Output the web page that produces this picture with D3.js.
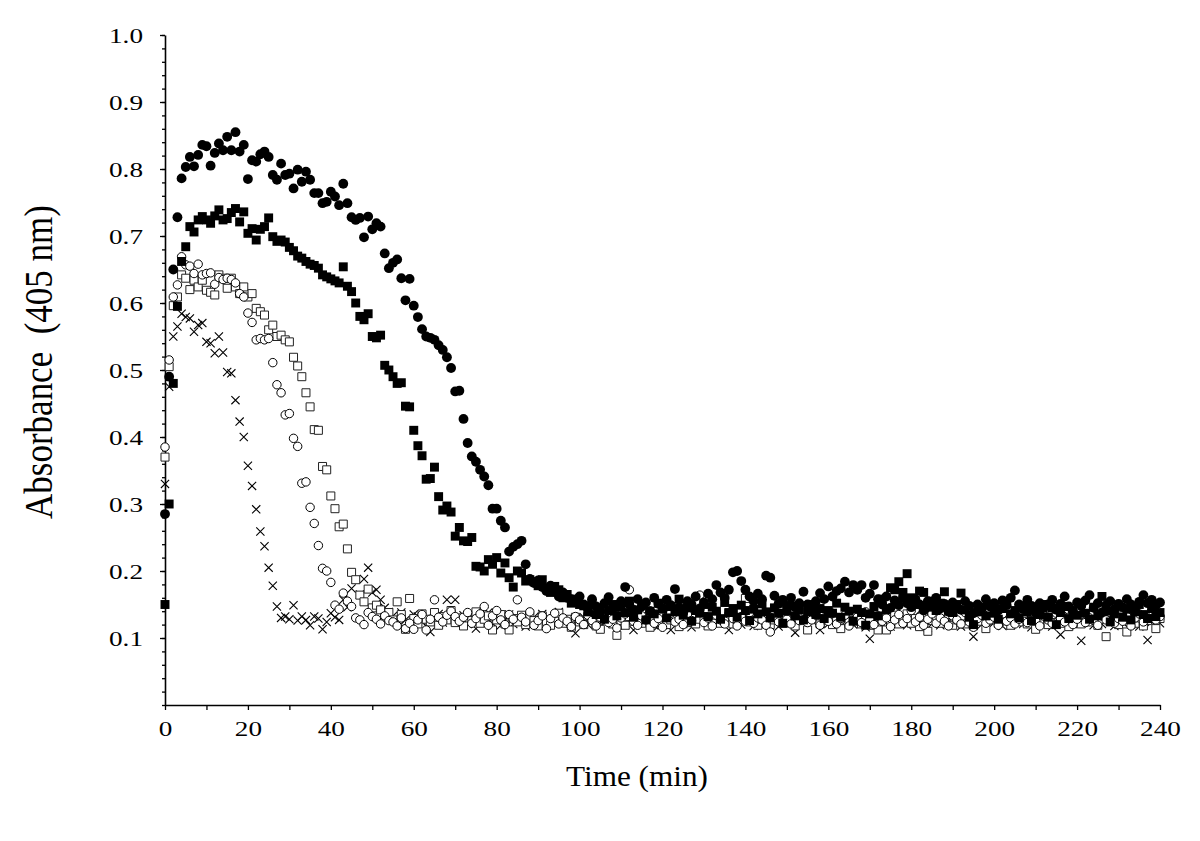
<!DOCTYPE html>
<html>
<head>
<meta charset="utf-8">
<script src="https://cdn.jsdelivr.net/npm/d3@7"></script>
<style>
  html, body { margin: 0; padding: 0; background: #fff; }
  svg { display: block; }
  text { font-family: "Liberation Serif", "Times New Roman", serif; fill: #000; }
</style>
</head>
<body>
<svg id="chart" width="1200" height="841"></svg>
<script>
// ---- Data (absorbance at 405 nm, one reading per minute, t = 0 .. 240 min) ----
const sampleMinutes = 1;
const xTickValues = [0, 20, 40, 60, 80, 100, 120, 140, 160, 180, 200, 220, 240];
const yTickValues = [0.1, 0.2, 0.3, 0.4, 0.5, 0.6, 0.7, 0.8, 0.9, 1.0];
const xLabel = "Time (min)";
const yLabel = "Absorbance  (405 nm)";

const filledCircle = [
0.285,0.490,0.650,0.728,0.786,0.803,0.818,0.804,0.821,0.836,
0.834,0.805,0.824,0.838,0.828,0.848,0.828,0.855,0.826,0.836,
0.785,0.813,0.811,0.822,0.826,0.818,0.791,0.784,0.808,0.791,
0.793,0.771,0.799,0.781,0.796,0.784,0.764,0.764,0.749,0.751,
0.766,0.759,0.746,0.778,0.749,0.728,0.724,0.727,0.698,0.729,
0.710,0.719,0.714,0.674,0.652,0.660,0.665,0.637,0.604,0.636,
0.596,0.579,0.561,0.550,0.548,0.545,0.537,0.530,0.519,0.503,
0.468,0.469,0.427,0.391,0.371,0.363,0.351,0.341,0.328,0.293,
0.293,0.275,0.265,0.229,0.236,0.240,0.245,0.210,0.188,0.182,
0.186,0.176,0.170,0.178,0.172,0.162,0.168,0.160,0.158,0.154,
0.162,
0.150,0.144,0.158,0.147,0.139,0.152,0.161,0.143,0.149,0.155,
0.176,0.150,0.142,0.158,0.147,0.153,0.140,0.160,0.151,0.145,
0.157,0.149,0.173,0.146,0.138,0.155,0.150,0.162,0.144,0.153,
0.166,0.158,0.179,0.168,0.160,0.172,0.198,0.200,0.185,0.172,
0.162,0.155,0.166,0.158,0.193,0.190,0.163,0.151,0.157,0.148,
0.160,0.146,0.152,0.169,0.150,0.143,0.155,0.167,0.158,0.177,
0.162,0.170,0.174,0.184,0.168,0.179,0.172,0.179,0.160,0.166,
0.179,0.158,0.150,0.162,0.145,0.156,0.149,0.160,0.152,0.146,
0.158,0.150,0.141,0.155,0.148,0.160,0.144,0.151,0.139,0.153,
0.146,0.142,0.155,0.148,0.137,0.150,0.144,0.158,0.147,0.152,
0.141,0.156,0.149,0.160,0.171,0.150,0.143,0.157,0.148,0.138,
0.152,0.145,0.150,0.157,0.142,0.151,0.162,0.147,0.140,0.153,
0.148,0.156,0.164,0.145,0.152,0.138,0.149,0.155,0.143,0.151,
0.146,0.158,0.150,0.141,0.154,0.164,0.152,0.157,0.149,0.153
];

const filledSquare = [
0.150,0.300,0.480,0.595,0.662,0.684,0.714,0.706,0.724,0.729,
0.724,0.719,0.730,0.739,0.724,0.726,0.735,0.741,0.721,0.736,
0.704,0.711,0.694,0.710,0.714,0.727,0.699,0.692,0.694,0.691,
0.683,0.678,0.670,0.667,0.662,0.658,0.656,0.652,0.642,0.639,
0.636,0.633,0.630,0.654,0.625,0.617,0.600,0.580,0.575,0.584,
0.550,0.548,0.552,0.507,0.500,0.490,0.480,0.481,0.446,0.445,
0.410,0.387,0.372,0.337,0.338,0.355,0.311,0.291,0.297,0.288,
0.252,0.265,0.245,0.244,0.250,0.207,0.206,0.200,0.217,0.210,
0.220,0.197,0.212,0.190,0.176,0.200,0.197,0.185,0.187,0.184,
0.178,0.187,0.174,0.168,0.177,0.172,0.160,0.165,0.152,0.158,
0.150,
0.148,0.139,0.152,0.135,0.144,0.128,0.141,0.150,0.133,0.146,
0.138,0.155,0.131,0.142,0.149,0.127,0.140,0.136,0.152,0.143,
0.130,0.147,0.139,0.158,0.134,0.145,0.125,0.141,0.137,0.150,
0.132,0.146,0.140,0.128,0.153,0.138,0.144,0.131,0.149,0.141,
0.126,0.143,0.136,0.151,0.139,0.130,0.145,0.137,0.122,0.140,
0.148,0.133,0.142,0.127,0.139,0.150,0.135,0.144,0.129,0.141,
0.137,0.152,0.131,0.146,0.140,0.125,0.143,0.138,0.119,0.136,
0.147,0.133,0.158,0.142,0.175,0.172,0.184,0.168,0.196,0.160,
0.150,0.170,0.168,0.146,0.155,0.141,0.152,0.169,0.145,0.138,
0.150,0.167,0.142,0.131,0.120,0.139,0.146,0.133,0.150,0.137,
0.128,0.144,0.155,0.136,0.141,0.130,0.148,0.139,0.126,0.143,
0.135,0.150,0.131,0.145,0.120,0.138,0.147,0.129,0.141,0.134,
0.152,0.137,0.128,0.146,0.133,0.162,0.140,0.124,0.136,0.148,
0.131,0.143,0.127,0.139,0.150,0.135,0.129,0.144,0.132,0.138
];

const openCircle = [
0.385,0.515,0.609,0.627,0.669,0.657,0.655,0.644,0.658,0.642,
0.644,0.645,0.628,0.638,0.635,0.637,0.635,0.630,0.614,0.609,
0.585,0.571,0.545,0.547,0.545,0.547,0.511,0.478,0.466,0.433,
0.435,0.398,0.386,0.331,0.333,0.295,0.271,0.238,0.204,0.200,
0.183,0.149,0.143,0.167,0.155,0.147,0.130,0.127,0.120,0.138,
0.132,
0.128,0.121,0.133,0.126,0.124,0.118,0.130,0.114,0.122,0.113,
0.127,0.135,0.112,0.128,0.157,0.131,0.124,0.134,0.140,0.132,
0.125,0.131,0.138,0.122,0.129,0.136,0.147,0.119,0.133,0.141,
0.127,0.120,0.135,0.128,0.157,0.131,0.124,0.139,0.119,0.126,
0.133,0.114,0.129,0.137,0.121,0.130,0.125,0.117,0.132,0.127,
0.120,0.134,0.126,0.118,0.131,0.139,0.123,0.128,0.115,0.130,
0.136,0.172,0.125,0.119,0.133,0.127,0.140,0.122,0.129,0.116,
0.131,0.137,0.124,0.128,0.120,0.135,0.126,0.141,0.164,0.123,
0.130,0.118,0.134,0.127,0.121,0.136,0.129,0.118,0.132,0.125,
0.138,0.122,0.130,0.127,0.119,0.109,0.131,0.124,0.136,0.128,
0.121,0.133,0.126,0.140,0.123,0.127,0.134,0.119,0.130,0.125,
0.137,0.121,0.129,0.134,0.118,0.126,0.131,0.123,0.139,0.127,
0.120,0.133,0.125,0.130,0.117,0.127,0.135,0.122,0.129,0.141,
0.124,0.131,0.119,0.128,0.136,0.122,0.130,0.125,0.118,0.133,
0.127,0.121,0.138,0.124,0.116,0.129,0.134,0.122,0.127,0.131,
0.119,0.136,0.125,0.130,0.121,0.128,0.140,0.123,0.131,0.126,
0.118,0.133,0.127,0.122,0.137,0.129,0.124,0.131,0.120,0.128,
0.135,0.123,0.130,0.126,0.119,0.133,0.127,0.138,0.122,0.129,
0.125,0.132,0.118,0.130,0.136,0.124,0.129,0.141,0.127,0.132
];

const openSquare = [
0.370,0.505,0.596,0.609,0.642,0.637,0.620,0.634,0.624,0.634,
0.619,0.616,0.612,0.642,0.637,0.622,0.637,0.624,0.614,0.624,
0.609,0.614,0.592,0.587,0.582,0.560,0.567,0.550,0.552,0.545,
0.542,0.519,0.506,0.490,0.466,0.445,0.411,0.410,0.356,0.351,
0.312,0.293,0.266,0.270,0.233,0.198,0.187,0.164,0.154,0.173,
0.145,
0.149,0.142,0.131,0.138,0.127,0.154,0.135,0.113,0.159,0.129,
0.121,0.136,0.128,0.124,0.138,0.119,0.132,0.127,0.141,0.123,
0.130,0.118,0.134,0.126,0.139,0.122,0.128,0.133,0.112,0.127,
0.135,0.121,0.112,0.129,0.124,0.134,0.120,0.131,0.126,0.118,
0.133,0.125,0.119,0.130,0.137,0.122,0.128,0.116,0.131,0.124,
0.120,0.133,0.127,0.118,0.113,0.129,0.135,0.121,0.104,0.126,
0.119,0.132,0.125,0.138,0.122,0.129,0.116,0.131,0.124,0.135,
0.120,0.127,0.133,0.117,0.129,0.123,0.136,0.121,0.128,0.132,
0.118,0.126,0.134,0.122,0.129,0.137,0.121,0.127,0.140,0.159,
0.124,0.131,0.119,0.128,0.133,0.120,0.127,0.135,0.122,0.130,
0.125,0.118,0.132,0.126,0.112,0.129,0.136,0.121,0.127,0.133,
0.120,0.128,0.114,0.131,0.124,0.138,0.127,0.121,0.133,0.126,
0.119,0.112,0.130,0.112,0.125,0.134,0.121,0.128,0.136,0.122,
0.129,0.117,0.131,0.110,0.126,0.133,0.122,0.128,0.135,0.119,
0.127,0.132,0.121,0.129,0.118,0.134,0.125,0.114,0.130,0.127,
0.122,0.135,0.128,0.119,0.131,0.124,0.137,0.121,0.129,0.113,
0.126,0.133,0.120,0.128,0.135,0.122,0.130,0.117,0.127,0.132,
0.121,0.129,0.124,0.136,0.119,0.128,0.102,0.131,0.125,0.120,
0.133,0.109,0.127,0.122,0.130,0.118,0.126,0.134,0.114,0.129
];

const crossMark = [
0.330,0.475,0.550,0.565,0.584,0.579,0.577,0.557,0.567,0.570,
0.542,0.540,0.525,0.550,0.526,0.497,0.495,0.455,0.423,0.400,
0.357,0.327,0.292,0.259,0.237,0.205,0.178,0.147,0.130,0.132,
0.128,0.149,0.126,0.132,0.127,0.119,0.132,0.129,0.113,0.124,
0.137,0.131,0.127,0.157,0.146,0.174,0.187,0.165,0.188,0.205,
0.168,0.172,0.157,0.145,0.139,
0.133,0.126,0.138,0.127,0.121,0.135,0.132,0.124,0.118,0.109,
0.129,0.136,0.123,0.157,0.131,0.157,0.127,0.134,0.121,0.129,
0.114,0.132,0.126,0.138,0.122,0.130,0.119,0.127,0.135,0.121,
0.128,0.133,0.117,0.126,0.131,0.124,0.136,0.120,0.128,0.133,
0.139,0.122,0.127,0.118,0.107,0.125,0.131,0.120,0.128,0.134,
0.116,0.124,0.130,0.121,0.127,0.135,0.119,0.126,0.112,0.129,
0.133,0.122,0.128,0.119,0.118,0.131,0.125,0.112,0.127,0.134,
0.121,0.129,0.116,0.132,0.124,0.130,0.119,0.127,0.136,0.122,
0.128,0.112,0.131,0.125,0.120,0.133,0.126,0.118,0.129,0.135,
0.121,0.127,0.132,0.117,0.125,0.130,0.122,0.108,0.128,0.134,
0.119,0.126,0.131,0.112,0.127,0.121,0.133,0.124,0.118,0.129,
0.135,0.120,0.127,0.131,0.116,0.099,0.125,0.130,0.121,0.127,
0.117,0.133,0.124,0.129,0.119,0.126,0.134,0.121,0.128,0.115,
0.130,0.124,0.119,0.127,0.133,0.122,0.128,0.117,0.125,0.131,
0.102,0.126,0.120,0.129,0.134,0.123,0.127,0.118,0.130,0.119,
0.125,0.132,0.121,0.128,0.116,0.126,0.131,0.122,0.129,0.117,
0.124,0.105,0.128,0.133,0.121,0.126,0.096,0.124,0.130,0.119,
0.127,0.121,0.132,0.125,0.118,0.129,0.123,0.131,0.120,0.126,
0.117,0.128,0.097,0.124,0.130,0.122
];

// ---- Layout ----
const svg = d3.select("#chart");
svg.append("rect").attr("width", 1200).attr("height", 841).attr("fill", "#fff");

const plot = { left: 165, right: 1160, top: 35, bottom: 705 };
const stretch = 1.36;   // the reference's tick text is horizontally widened

const x = d3.scaleLinear().domain([0, 240]).range([plot.left, plot.right]);
const y = d3.scaleLinear().domain([0, 1.0]).range([plot.bottom, plot.top]);

const toPoints = arr => arr.map((v, i) => ({ t: i * sampleMinutes, v }));

// ---- Axes ----
const yAxisMinor = d3.axisLeft(y).tickValues(d3.range(0, 1.0001, 0.02)).tickSize(3).tickSizeOuter(0).tickFormat("");
svg.append("g").attr("transform", `translate(${plot.left},0)`).call(yAxisMinor)
  .call(g => g.select(".domain").remove())
  .call(g => g.selectAll("line").attr("stroke", "#000").attr("stroke-width", 1.3));

const yAxis = d3.axisLeft(y).tickValues(yTickValues).tickSize(5).tickSizeOuter(0).tickFormat(d3.format(".1f"));
svg.append("g").attr("transform", `translate(${plot.left},0)`).call(yAxis)
  .call(g => g.select(".domain").attr("stroke", "#000").attr("stroke-width", 1.6))
  .call(g => g.selectAll("line").attr("stroke", "#000").attr("stroke-width", 1.3))
  .call(g => g.selectAll("text")
      .attr("x", -22 / stretch).attr("dy", "0.35em")
      .attr("transform", `scale(${stretch},1)`)
      .style("font-size", "20px").attr("fill", "#000"));

const xAxisMinor = d3.axisBottom(x).tickValues(d3.range(0, 241, 10)).tickSize(5).tickSizeOuter(0).tickFormat("");
svg.append("g").attr("transform", `translate(0,${plot.bottom})`).call(xAxisMinor)
  .call(g => g.select(".domain").attr("stroke", "#000").attr("stroke-width", 1.6))
  .call(g => g.selectAll("line").attr("stroke", "#000").attr("stroke-width", 1.3));

const xAxis = d3.axisBottom(x).tickValues(xTickValues).tickSize(0).tickSizeOuter(0).tickFormat(d3.format("d"));
svg.append("g").attr("transform", `translate(0,${plot.bottom})`).call(xAxis)
  .call(g => g.select(".domain").remove())
  .call(g => g.selectAll("text")
      .attr("y", 31).attr("dy", 0)
      .attr("transform", `scale(${stretch},1)`)
      .style("font-size", "20px").attr("fill", "#000"));

// ---- Axis titles ----
svg.append("text")
  .attr("transform", `translate(637,786) scale(1.04,1)`)
  .attr("text-anchor", "middle")
  .style("font-size", "30px")
  .text(xLabel);

svg.append("text")
  .attr("transform", `translate(52,362) scale(1.12,1) rotate(-90)`)
  .attr("text-anchor", "middle")
  .style("font-size", "35px")
  .style("white-space", "pre")
  .attr("xml:space", "preserve")
  .text(yLabel);

// ---- Markers ----
const layer = svg.append("g");

function drawSeries(arr, pathD, fill, stroke, sw) {
  layer.append("g").selectAll("path").data(toPoints(arr)).join("path")
    .attr("transform", d => `translate(${x(d.t)},${y(d.v)})`)
    .attr("d", pathD)
    .attr("fill", fill).attr("stroke", stroke).attr("stroke-width", sw);
}

const crossPath = "M-4.1,-4.1L4.1,4.1M-4.1,4.1L4.1,-4.1";
drawSeries(crossMark, crossPath, "none", "#000", 1.1);
drawSeries(openSquare, d3.symbol(d3.symbolSquare, 64)(), "#fff", "#222", 1.0);
drawSeries(openCircle, d3.symbol(d3.symbolCircle, 56)(), "#fff", "#000", 1.0);
drawSeries(filledSquare, d3.symbol(d3.symbolSquare, 80)(), "#000", "none", 0);
drawSeries(filledCircle, d3.symbol(d3.symbolCircle, 76)(), "#000", "none", 0);
</script>
</body>
</html>
